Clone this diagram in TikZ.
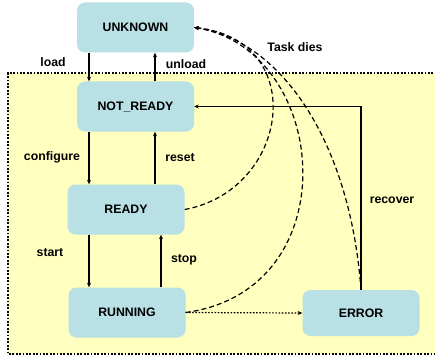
\documentclass[tikz,border=0pt]{standalone}
\usepackage{fontspec}
\setmainfont{Liberation Sans}
\usetikzlibrary{arrows.meta,positioning}
\definecolor{statefill}{RGB}{185,224,228}
\definecolor{zonefill}{RGB}{255,255,192}
\tikzset{
      statebox/.style={
        rounded corners=8pt,
        fill=statefill,
        minimum width=117pt,
        minimum height=50pt,
        inner sep=2pt,
        font=\fontsize{12.3}{14}\selectfont\bfseries
      },
      translabel/.style={
        font=\fontsize{12.3}{14}\selectfont\bfseries,
        inner sep=0pt
      },
      trans/.style={
        -{Stealth[length=4.5pt,width=4pt]},
        line width=1.2pt
      },
      diesline/.style={
        trans,
        dash pattern=on 5pt off 3pt
      }
    }

\begin{document}
\begin{tikzpicture}[x=1pt,y=-1pt]
    \useasboundingbox (0,0) rectangle (435,358);
    % managed area
    \fill[zonefill] (8,73) rectangle (440,354);
    \draw[line width=1.8pt, dash pattern=on 1.8pt off 1.6pt] (440,73) -- (8,73) -- (8,354) -- (440,354);
    \node[statebox] (unknown) at (135.5,27.5) {UNKNOWN};
    \node[statebox] (notready) at (135.5,106.5) {NOT\_READY};
    \node[statebox] (ready) at (126,209.5) {READY};
    \node[statebox] (running) at (127,312.5) {RUNNING};
    \node[statebox, minimum height=46pt] (error) at (361,313) {ERROR};
    \draw[trans] (unknown.south -| 89,0) -- (notready.north -| 89,0);
    \draw[trans] (notready.north -| 155,0) -- (unknown.south -| 155,0);
    \draw[trans] (notready.south -| 89,0) -- (ready.north -| 89,0);
    \draw[trans] (ready.north -| 155,0) -- (notready.south -| 155,0);
    \draw[trans] (ready.south -| 89,0) -- (running.north -| 89,0);
    \draw[trans] (running.north -| 161,0) -- (ready.south -| 161,0);
    \draw[trans] (error.north) |- (notready.east);
    \draw[trans, dash pattern=on 1.6pt off 1.6pt] (running.east) -- (error.west);
    % task dies
    \draw[diesline] (ready.east) .. controls (290,190) and (310,40) .. (unknown.east);
    \draw[diesline] (running.east) .. controls (350,290) and (330,50) .. (unknown.east);
    \draw[diesline] (error.north) .. controls (350,140) and (280,40) .. (unknown.east);
    \node[translabel] (lload) at (53,62) {load};
    \node[translabel] (lunload) at (186,64) {unload};
    \node[translabel] (lconfigure) at (52,157) {configure};
    \node[translabel] (lreset) at (180,158) {reset};
    \node[translabel] (lstart) at (50,253) {start};
    \node[translabel] (lstop) at (184,260) {stop};
    \node[translabel] (lrecover) at (392,200) {recover};
    \node[translabel] (ldies) at (295,47) {Task dies};
    \end{tikzpicture}
\end{document}
